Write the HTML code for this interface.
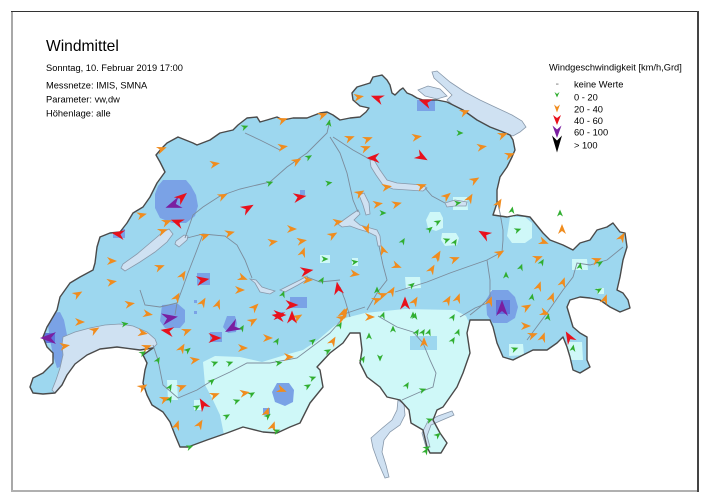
<!DOCTYPE html>
<html><head><meta charset="utf-8"><style>html,body{margin:0;padding:0;background:#fff}svg{display:block}</style></head>
<body>
<svg width="710" height="502" viewBox="0 0 710 502" xmlns="http://www.w3.org/2000/svg" font-family="'Liberation Sans', Arial, sans-serif">
<defs>
<path id="CH" d="M30,387 L33,378 L43,373 L53,363 L53,353 L47,347 L43,337 L47,327 L50,322 L57,310 L60,297 L70,283 L80,277 L93,270 L95,263 L97,247 L100,237 L110,233 L120,232 L127,223 L133,213 L143,207 L150,197 L157,183 L165,172 L160,162 L156,155 L162,148 L167,143 L178,137 L193,143 L197,145 L210,140 L220,133 L233,130 L238,125 L247,118 L257,117 L260,122 L267,120 L277,117 L283,120 L293,118 L307,118 L320,113 L327,112 L333,115 L340,120 L350,118 L360,117 L366,112 L369,108 L360,106 L353,100 L352,93 L357,87 L370,83 L373,77 L382,75 L387,80 L390,85 L392,93 L395,95 L400,90 L403,88 L407,93 L412,95 L417,98 L423,100 L437,100 L447,102 L453,105 L463,110 L477,120 L490,127 L503,132 L510,135 L513,140 L515,150 L512,157 L507,167 L500,177 L497,190 L497,203 L493,215 L507,217 L517,215 L530,217 L543,233 L550,240 L563,245 L573,250 L580,243 L590,240 L597,230 L607,227 L613,223 L620,232 L625,233 L627,247 L623,260 L620,277 L617,290 L623,293 L628,300 L630,308 L620,312 L610,307 L600,300 L590,298 L580,297 L570,300 L567,307 L570,317 L573,327 L580,333 L587,337 L587,360 L590,367 L580,373 L573,370 L570,357 L567,347 L563,337 L557,343 L547,350 L533,350 L527,353 L513,360 L503,357 L497,343 L493,327 L490,320 L480,320 L470,320 L467,333 L470,353 L463,373 L457,387 L450,397 L443,407 L437,410 L433,420 L440,433 L447,443 L441,453 L430,453 L427,447 L423,430 L411,423 L409,410 L400,400 L387,397 L380,387 L367,377 L360,363 L362,350 L360,333 L350,333 L343,343 L330,353 L317,367 L320,370 L323,387 L310,403 L300,423 L290,427 L277,433 L263,432 L243,427 L227,433 L207,440 L188,447 L180,447 L175,435 L170,422 L163,412 L152,405 L147,395 L143,383 L145,370 L147,363 L143,355 L153,348 L140,350 L117,347 L100,349 L87,355 L75,364 L67,375 L62,385 L55,393 L43,394 L33,393 Z"/>
<clipPath id="clip"><use href="#CH"/></clipPath>
<path id="g" d="M3.5,0L-3.5,-3L-1.5,0L-3.5,3Z" fill="#30ae30"/>
<path id="o" d="M5,0L-5,-4L-2,0L-5,4Z" fill="#f08c1e"/>
<path id="r" d="M6.5,0L-6.5,-5L-2.5,0L-6.5,5Z" fill="#e8101c"/>
<path id="p" d="M8,0L-8,-6L-3,0L-8,6Z" fill="#7a1ea0"/>
</defs>
<rect width="710" height="502" fill="#fff"/>
<!-- frame -->
<rect x="11" y="11" width="2" height="481" fill="#a8a8a8"/>
<rect x="11" y="490" width="688" height="2" fill="#b0b0b0"/>
<rect x="11" y="11" width="688" height="1" fill="#333"/>
<rect x="697" y="11" width="2" height="481" fill="#444"/>

<!-- lakes outside -->
<g fill="#cfe1f2" stroke="#8898aa" stroke-width="0.8">
<path d="M432,72 L437,71 L450,82 L465,92 L480,100 L497,108 L512,115 L522,121 L526,127 L520,132 L513,136 L510,135 L503,132 L490,127 L477,120 L463,110 L453,105 L447,100 L452,95 L445,88 L434,78 Z"/>
<path d="M418,90 L428,86 L440,89 L447,96 L437,99 L425,96 Z"/>
<path d="M398,400 L404,404 L405,415 L400,425 L390,432 L384,440 L382,452 L386,465 L389,477 L385,478 L378,462 L373,448 L371,438 L380,430 L392,420 L397,410 Z"/>
</g>

<use href="#CH" fill="#9dd7ef"/>
<g clip-path="url(#clip)">
<path fill="#cff8f8" d="M203,362 L215,356 L240,357 L262,362 L285,355 L303,350 L318,340 L333,327 L345,318 L365,313 L405,309 L455,310 L466,316 L470,325 L472,470 L380,480 L225,470 L225,440 L220,415 L212,398 L205,385 Z"/>
<g fill="#9dd7ef">
<path d="M410,336 L437,336 L437,350 L410,350 Z"/>
</g>
<g fill="#cff8f8">
<path d="M430,212 L440,212 L443,218 L443,228 L436,231 L428,228 L426,220 Z"/>
<path d="M442,233 L456,233 L459,238 L457,245 L445,246 L441,240 Z"/>
<path d="M510,217 L525,217 L532,223 L532,238 L525,243 L512,243 L507,236 Z"/>
<path d="M572,259 L587,259 L588,270 L572,270 Z"/>
<path d="M405,277 L420,277 L421,288 L406,289 Z"/>
<path d="M509,344 L523,344 L524,355 L509,356 Z"/>
<path d="M567,342 L582,342 L583,360 L568,360 Z"/>
<path d="M453,197 L467,197 L468,210 L453,210 Z"/>
<path d="M506,203 L514,203 L514,217 L506,217 Z"/>
<path d="M597,288 L604,288 L604,294 L597,294 Z"/>
<path d="M167,380 L177,380 L178,400 L168,400 Z"/>
<path d="M194,400 L202,400 L202,410 L194,410 Z"/>
<path d="M320,255 L330,255 L330,263 L320,263 Z"/>
<path d="M352,258 L358,258 L358,266 L352,266 Z"/>
<path d="M490,290 L500,290 L500,298 L490,298 Z"/>
</g>
<g fill="#7aa2e6">
<path d="M163,180 L186,180 L191,186 L196,195 L198,206 L195,216 L186,223 L172,223 L160,218 L155,208 L155,194 L158,186 Z"/>
<path d="M113,229 L125,229 L125,238 L113,238 Z"/>
<path d="M53,313 L60,312 L64,320 L67,335 L66,350 L63,366 L57,368 L53,355 L50,340 L48,325 Z"/>
<path d="M162,305 L178,304 L185,310 L185,322 L180,328 L165,328 L160,321 Z"/>
<path d="M197,273 L210,273 L210,285 L197,285 Z"/>
<path d="M227,316 L235,316 L237,323 L236,332 L228,333 L223,327 Z"/>
<path d="M210,332 L222,332 L222,342 L210,342 Z"/>
<path d="M290,297 L307,297 L307,308 L290,308 Z"/>
<path d="M277,312 L283,312 L283,317 L277,317 Z"/>
<path d="M492,290 L508,290 L515,297 L518,307 L515,318 L507,323 L493,323 L487,315 L486,300 Z"/>
<path d="M417,100 L435,100 L435,111 L417,111 Z"/>
<path d="M277,383 L289,383 L294,390 L293,402 L285,406 L275,402 L272,392 Z"/>
<path d="M263,408 L270,408 L270,415 L263,415 Z"/>
<path d="M300,190 L305,190 L305,195 L300,195 Z"/>
<path d="M194,300 L197,300 L197,303 L194,303 Z"/>
<path d="M194,311 L197,311 L197,314 L194,314 Z"/>
</g>
<g fill="#5f74dc">
<path d="M43,333 L55,333 L55,343 L43,343 Z"/>
<path d="M496,300 L510,300 L510,314 L496,314 Z"/>
</g>
</g>

<!-- inner lakes -->
<g fill="#cfe1f2" stroke="#8898aa" stroke-width="0.8">
<path d="M63,337 L75,332 L90,328 L105,325 L120,324 L133,326 L147,332 L155,339 L157,344 L153,348 L140,350 L117,347 L100,349 L87,355 L75,364 L67,375 L62,385 L55,393 L52,390 L56,380 L60,368 L63,355 L62,345 Z"/>
<path d="M121,268 L125,271 L140,262 L155,252 L167,242 L173,234 L169,229 L163,232 L150,243 L137,254 L123,264 Z"/>
<path d="M175,244 L179,247 L187,240 L188,236 L184,235 L176,241 Z"/>
<path d="M250,279 L255,283 L260,292 L270,294 L275,291 L268,289 L262,287 L256,280 Z"/>
<path d="M280,290 L290,285 L300,280 L307,276 L308,279 L298,285 L285,292 Z"/>
<path d="M338,224 L345,219 L352,214 L358,210 L360,214 L354,220 L360,225 L370,228 L377,230 L380,236 L381,246 L378,246 L376,236 L368,232 L358,229 L350,226 L342,227 Z"/>
<path d="M359,195 L364,193 L369,203 L370,214 L366,215 L363,205 Z"/>
<path d="M370,160 L374,160 L380,170 L387,180 L397,183 L410,184 L422,185 L427,188 L423,191 L408,190 L393,189 L383,185 L376,175 L371,167 Z"/>
<path d="M445,203 L455,200 L467,202 L466,206 L455,206 L447,207 Z"/>
<path d="M422,433 L428,421 L438,416 L452,411 L454,415 L440,421 L431,425 L427,436 L430,447 L426,447 Z"/>
</g>

<!-- rivers -->
<g fill="none" stroke="#7c8c9c" stroke-width="0.9">
<polyline points="153,345 158,360 163,385 178,398 197,390 213,380 230,372 247,363 270,363 297,358 317,343 330,333 337,325 347,313 365,307"/>
<polyline points="378,316 397,327 413,332 423,343 430,360 436,373 433,387 420,392 402,400"/>
<polyline points="395,292 427,282 450,273 467,267 487,260 502,252 503,240 503,230 500,213 497,200"/>
<polyline points="487,260 490,280 490,297 480,307 470,315"/>
<polyline points="527,340 547,313 563,290 573,277 577,263 590,265 607,260 623,247"/>
<polyline points="460,317 475,308 490,302"/>
<polyline points="185,238 193,215 203,207 220,196 240,189 257,185 270,182 287,167 307,153 320,140 327,133 330,120"/>
<polyline points="187,238 203,234 225,236 237,245 245,260 252,278"/>
<polyline points="203,234 195,255 188,273 183,287 177,303 175,315"/>
<polyline points="140,290 145,305 160,307 177,303"/>
<polyline points="330,137 340,153 347,173 353,200 358,212"/>
<polyline points="379,246 383,265 387,280 377,293 367,310"/>
<polyline points="333,137 353,150 371,160"/>
<polyline points="425,188 432,196 445,203"/>
<polyline points="307,277 320,282 340,280"/>
<polyline points="340,287 345,300 350,317"/>
<polyline points="245,133 260,140 280,150"/>
</g>

<use href="#CH" fill="none" stroke="#4a4a4a" stroke-width="1.4" stroke-linejoin="round"/>

<!-- orange -->
<g>
<use href="#o" transform="translate(142 215) rotate(-15)"/><use href="#o" transform="translate(167 222) rotate(-20)"/><use href="#o" transform="translate(163 231) rotate(-20)"/><use href="#o" transform="translate(223 196) rotate(-25)"/><use href="#o" transform="translate(205 236) rotate(-20)"/><use href="#o" transform="translate(230 233) rotate(-15)"/><use href="#o" transform="translate(273 242) rotate(-10)"/><use href="#o" transform="translate(112 261) rotate(0)"/><use href="#o" transform="translate(160 267) rotate(-20)"/><use href="#o" transform="translate(183 275) rotate(-60)"/><use href="#o" transform="translate(112 282) rotate(-10)"/><use href="#o" transform="translate(243 278) rotate(20)"/><use href="#o" transform="translate(240 290) rotate(0)"/><use href="#o" transform="translate(78 294) rotate(-30)"/><use href="#o" transform="translate(130 304) rotate(-10)"/><use href="#o" transform="translate(177 297) rotate(-60)"/><use href="#o" transform="translate(203 302) rotate(-60)"/><use href="#o" transform="translate(218 304) rotate(-70)"/><use href="#o" transform="translate(255 307) rotate(-45)"/><use href="#o" transform="translate(148 314) rotate(10)"/><use href="#o" transform="translate(253 321) rotate(-30)"/><use href="#o" transform="translate(268 338) rotate(0)"/><use href="#o" transform="translate(80 322) rotate(0)"/><use href="#o" transform="translate(95 330) rotate(-30)"/><use href="#o" transform="translate(143 333) rotate(10)"/><use href="#o" transform="translate(65 346) rotate(-10)"/><use href="#o" transform="translate(182 348) rotate(-60)"/><use href="#o" transform="translate(147 347) rotate(-20)"/><use href="#o" transform="translate(195 360) rotate(-10)"/><use href="#o" transform="translate(243 348) rotate(0)"/><use href="#o" transform="translate(187 331) rotate(-20)"/>
<use href="#o" transform="translate(162 149) rotate(-20)"/><use href="#o" transform="translate(215 164) rotate(-10)"/><use href="#o" transform="translate(283 120) rotate(-20)"/><use href="#o" transform="translate(283 147) rotate(-10)"/><use href="#o" transform="translate(297 161) rotate(-30)"/><use href="#o" transform="translate(323 115) rotate(-20)"/><use href="#o" transform="translate(359 97) rotate(-10)"/><use href="#o" transform="translate(350 138) rotate(-20)"/><use href="#o" transform="translate(368 139) rotate(-20)"/><use href="#o" transform="translate(366 148) rotate(-20)"/><use href="#o" transform="translate(417 137) rotate(-10)"/><use href="#o" transform="translate(465 112) rotate(-20)"/><use href="#o" transform="translate(482 147) rotate(-10)"/><use href="#o" transform="translate(503 135) rotate(-20)"/><use href="#o" transform="translate(510 155) rotate(-20)"/><use href="#o" transform="translate(475 180) rotate(-30)"/><use href="#o" transform="translate(470 198) rotate(-60)"/><use href="#o" transform="translate(447 196) rotate(-40)"/><use href="#o" transform="translate(422 186) rotate(-20)"/><use href="#o" transform="translate(397 204) rotate(-15)"/><use href="#o" transform="translate(378 204) rotate(-10)"/><use href="#o" transform="translate(360 193) rotate(-30)"/><use href="#o" transform="translate(387 187) rotate(-10)"/>
<use href="#o" transform="translate(338 222) rotate(-10)"/><use href="#o" transform="translate(367 229) rotate(70)"/><use href="#o" transform="translate(292 229) rotate(0)"/><use href="#o" transform="translate(302 241) rotate(-10)"/><use href="#o" transform="translate(303 252) rotate(-70)"/><use href="#o" transform="translate(333 235) rotate(-30)"/><use href="#o" transform="translate(383 250) rotate(-110)"/><use href="#o" transform="translate(397 266) rotate(20)"/><use href="#o" transform="translate(432 269) rotate(-60)"/><use href="#o" transform="translate(355 274) rotate(10)"/><use href="#o" transform="translate(308 280) rotate(0)"/><use href="#o" transform="translate(392 291) rotate(-60)"/><use href="#o" transform="translate(383 295) rotate(-20)"/><use href="#o" transform="translate(377 300) rotate(-20)"/><use href="#o" transform="translate(415 301) rotate(-60)"/><use href="#o" transform="translate(438 255) rotate(-60)"/><use href="#o" transform="translate(298 317) rotate(-30)"/><use href="#o" transform="translate(345 312) rotate(-60)"/><use href="#o" transform="translate(342 318) rotate(-30)"/><use href="#o" transform="translate(370 317) rotate(0)"/>
<use href="#o" transform="translate(499 203) rotate(-60)"/><use href="#o" transform="translate(562 229) rotate(-90)"/><use href="#o" transform="translate(544 242) rotate(20)"/><use href="#o" transform="translate(622 237) rotate(-60)"/><use href="#o" transform="translate(500 253) rotate(-30)"/><use href="#o" transform="translate(437 256) rotate(-60)"/><use href="#o" transform="translate(455 259) rotate(-20)"/><use href="#o" transform="translate(538 258) rotate(-20)"/><use href="#o" transform="translate(597 260) rotate(-20)"/><use href="#o" transform="translate(563 282) rotate(-70)"/><use href="#o" transform="translate(539 286) rotate(-70)"/><use href="#o" transform="translate(552 297) rotate(-70)"/><use href="#o" transform="translate(605 299) rotate(-70)"/><use href="#o" transform="translate(527 307) rotate(-30)"/><use href="#o" transform="translate(490 301) rotate(-70)"/><use href="#o" transform="translate(458 298) rotate(-70)"/><use href="#o" transform="translate(448 300) rotate(-60)"/><use href="#o" transform="translate(545 313) rotate(20)"/><use href="#o" transform="translate(526 326) rotate(0)"/><use href="#o" transform="translate(533 335) rotate(-20)"/><use href="#o" transform="translate(543 337) rotate(-70)"/><use href="#o" transform="translate(424 342) rotate(-90)"/>
<use href="#o" transform="translate(289 357) rotate(0)"/><use href="#o" transform="translate(143 387) rotate(-30)"/><use href="#o" transform="translate(182 387) rotate(-20)"/><use href="#o" transform="translate(165 399) rotate(-20)"/><use href="#o" transform="translate(215 395) rotate(-20)"/><use href="#o" transform="translate(245 393) rotate(-10)"/><use href="#o" transform="translate(282 390) rotate(20)"/><use href="#o" transform="translate(267 412) rotate(-70)"/><use href="#o" transform="translate(177 425) rotate(-70)"/><use href="#o" transform="translate(200 424) rotate(-60)"/><use href="#o" transform="translate(273 426) rotate(-70)"/><use href="#o" transform="translate(333 341) rotate(-60)"/><use href="#o" transform="translate(343 313) rotate(-70)"/>
</g>
<!-- green -->
<g>
<use href="#g" transform="translate(245 127) rotate(-20)"/><use href="#g" transform="translate(309 157) rotate(-30)"/><use href="#g" transform="translate(329 123) rotate(-80)"/><use href="#g" transform="translate(270 183) rotate(-20)"/><use href="#g" transform="translate(329 183) rotate(-10)"/><use href="#g" transform="translate(383 213) rotate(0)"/><use href="#g" transform="translate(460 133) rotate(0)"/><use href="#g" transform="translate(458 203) rotate(-10)"/><use href="#g" transform="translate(512 210) rotate(-80)"/><use href="#g" transform="translate(403 241) rotate(-60)"/><use href="#g" transform="translate(325 259) rotate(0)"/><use href="#g" transform="translate(355 262) rotate(-10)"/><use href="#g" transform="translate(322 280) rotate(-60)"/><use href="#g" transform="translate(283 294) rotate(-70)"/><use href="#g" transform="translate(377 290) rotate(-90)"/><use href="#g" transform="translate(383 315) rotate(-70)"/><use href="#g" transform="translate(413 315) rotate(-90)"/><use href="#g" transform="translate(412 285) rotate(-40)"/><use href="#g" transform="translate(125 324) rotate(-10)"/><use href="#g" transform="translate(242 328) rotate(-60)"/><use href="#g" transform="translate(277 341) rotate(-60)"/><use href="#g" transform="translate(188 350) rotate(-40)"/><use href="#g" transform="translate(215 363) rotate(-20)"/><use href="#g" transform="translate(230 363) rotate(-20)"/><use href="#g" transform="translate(143 353) rotate(-30)"/><use href="#g" transform="translate(158 360) rotate(-60)"/><use href="#g" transform="translate(279 363) rotate(-10)"/><use href="#g" transform="translate(212 381) rotate(-40)"/><use href="#g" transform="translate(170 387) rotate(-60)"/><use href="#g" transform="translate(252 394) rotate(-30)"/><use href="#g" transform="translate(170 399) rotate(-60)"/><use href="#g" transform="translate(197 407) rotate(-30)"/><use href="#g" transform="translate(237 401) rotate(-20)"/><use href="#g" transform="translate(227 416) rotate(-30)"/><use href="#g" transform="translate(268 416) rotate(-40)"/><use href="#g" transform="translate(277 431) rotate(-20)"/><use href="#g" transform="translate(190 447) rotate(-20)"/>
<use href="#g" transform="translate(313 341) rotate(-40)"/><use href="#g" transform="translate(328 351) rotate(-30)"/><use href="#g" transform="translate(313 378) rotate(-20)"/><use href="#g" transform="translate(308 386) rotate(-30)"/><use href="#g" transform="translate(340 325) rotate(-60)"/><use href="#g" transform="translate(369 336) rotate(-90)"/><use href="#g" transform="translate(380 358) rotate(90)"/><use href="#g" transform="translate(363 359) rotate(-60)"/><use href="#g" transform="translate(393 329) rotate(-90)"/><use href="#g" transform="translate(417 332) rotate(-60)"/><use href="#g" transform="translate(423 332) rotate(-60)"/><use href="#g" transform="translate(407 385) rotate(-60)"/><use href="#g" transform="translate(423 390) rotate(-20)"/><use href="#g" transform="translate(427 448) rotate(-30)"/><use href="#g" transform="translate(560 213) rotate(-90)"/><use href="#g" transform="translate(518 230) rotate(-20)"/><use href="#g" transform="translate(438 222) rotate(-30)"/><use href="#g" transform="translate(430 229) rotate(-40)"/><use href="#g" transform="translate(447 240) rotate(-20)"/><use href="#g" transform="translate(455 242) rotate(-60)"/><use href="#g" transform="translate(542 262) rotate(-60)"/><use href="#g" transform="translate(600 263) rotate(-30)"/><use href="#g" transform="translate(580 266) rotate(-80)"/><use href="#g" transform="translate(521 267) rotate(-70)"/><use href="#g" transform="translate(506 275) rotate(-90)"/><use href="#g" transform="translate(599 290) rotate(-30)"/><use href="#g" transform="translate(532 297) rotate(-80)"/><use href="#g" transform="translate(453 317) rotate(-60)"/><use href="#g" transform="translate(415 316) rotate(-80)"/><use href="#g" transform="translate(548 317) rotate(-80)"/><use href="#g" transform="translate(573 348) rotate(-80)"/><use href="#g" transform="translate(515 349) rotate(-20)"/><use href="#g" transform="translate(458 332) rotate(-70)"/><use href="#g" transform="translate(429 332) rotate(-70)"/><use href="#g" transform="translate(453 340) rotate(-60)"/><use href="#g" transform="translate(430 420) rotate(-20)"/><use href="#g" transform="translate(438 435) rotate(-40)"/><use href="#g" transform="translate(426 451) rotate(-60)"/>
</g>
<!-- red -->
<g>
<use href="#r" transform="translate(182 197) rotate(-40)"/><use href="#r" transform="translate(177 222) rotate(200)"/><use href="#r" transform="translate(118 234) rotate(190)"/><use href="#r" transform="translate(248 208) rotate(-30)"/><use href="#r" transform="translate(300 197) rotate(-10)"/><use href="#r" transform="translate(373 158) rotate(180)"/><use href="#r" transform="translate(422 157) rotate(30)"/><use href="#r" transform="translate(377 98) rotate(200)"/><use href="#r" transform="translate(425 102) rotate(200)"/><use href="#r" transform="translate(484 234) rotate(-150)"/><use href="#r" transform="translate(203 280) rotate(-10)"/><use href="#r" transform="translate(278 316) rotate(190)"/><use href="#r" transform="translate(167 331) rotate(190)"/><use href="#r" transform="translate(215 338) rotate(0)"/><use href="#r" transform="translate(307 271) rotate(-10)"/><use href="#r" transform="translate(338 288) rotate(-100)"/><use href="#r" transform="translate(292 305) rotate(0)"/><use href="#r" transform="translate(280 315) rotate(0)"/><use href="#r" transform="translate(292 317) rotate(-90)"/><use href="#r" transform="translate(405 303) rotate(-90)"/><use href="#r" transform="translate(203 404) rotate(-120)"/><use href="#r" transform="translate(569 337) rotate(-120)"/>
</g>
<!-- purple -->
<g>
<use href="#p" transform="translate(173 205) rotate(160)"/><use href="#p" transform="translate(170 318) rotate(-10)"/><use href="#p" transform="translate(232 328) rotate(150)"/><use href="#p" transform="translate(502 308) rotate(-90)"/><use href="#p" transform="translate(48 338) rotate(180)"/>
</g>

<!-- title text -->
<g fill="#000">
<text x="46" y="51" font-size="15.6">Windmittel</text>
<text x="46" y="71" font-size="9.3">Sonntag, 10. Februar 2019 17:00</text>
<text x="46" y="88.5" font-size="9.3">Messnetze: IMIS, SMNA</text>
<text x="46" y="102.5" font-size="9.3">Parameter: vw,dw</text>
<text x="46" y="116.5" font-size="9.3">Höhenlage: alle</text>
</g>

<!-- legend -->
<g font-size="9.3" fill="#000">
<text x="549" y="70.5">Windgeschwindigkeit [km/h,Grd]</text>
<text x="574" y="87.4">keine Werte</text>
<text x="574" y="100.4">0 - 20</text>
<text x="574" y="112.7">20 - 40</text>
<text x="574" y="124">40 - 60</text>
<text x="574" y="135.7">60 - 100</text>
<text x="574" y="148.4">&gt; 100</text>
</g>
<rect x="556" y="83.5" width="2.5" height="1.2" fill="#999"/>
<path d="M554.5,92 L557,94 L559.5,92 L557,97.5 Z" fill="#30ae30"/>
<path d="M554,104.5 L557,107 L560,104.5 L557,112.5 Z" fill="#f08c1e"/>
<path d="M553,115 L557,118 L561,115 L557,125 Z" fill="#e8101c"/>
<path d="M552.5,125.5 L557,129.5 L561.5,125.5 L557,138 Z" fill="#7a1ea0"/>
<path d="M552,135.5 L557,140.5 L562,135.5 L557,152.5 Z" fill="#000"/>
</svg>
</body></html>
